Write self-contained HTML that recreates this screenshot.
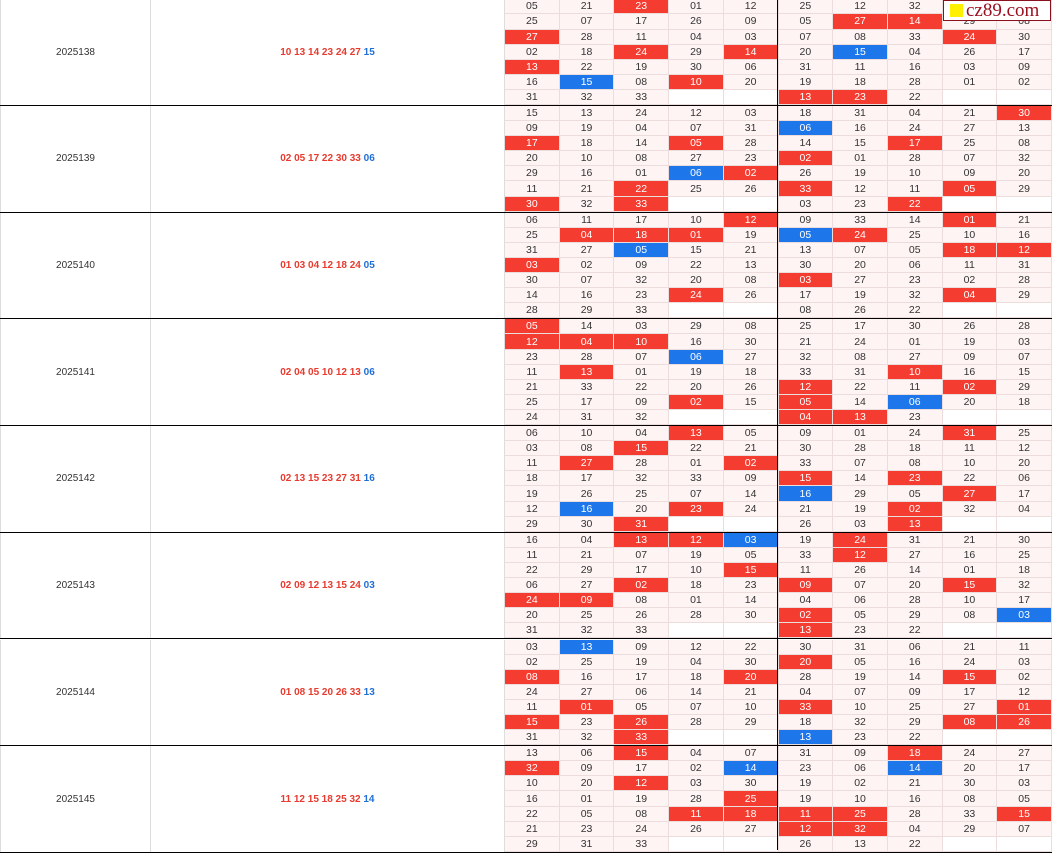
<!DOCTYPE html>
<html><head><meta charset="utf-8"><style>
*{margin:0;padding:0;box-sizing:border-box}
body{width:1052px;height:850px;overflow:hidden;background:#fff;font-family:"Liberation Sans",sans-serif;position:relative}
.blk{position:absolute;left:0;width:1052px;height:106.7px;display:grid;grid-template-columns:150px 355px repeat(10,1fr);grid-template-rows:repeat(7,1fr);border-bottom:1px solid #000}
.p,.n{grid-row:1/8;display:flex;align-items:center;justify-content:center;font-size:10px;border-left:1px solid #ddd;color:#333}
.n{font-weight:bold;color:#e83a2e;border-left:1px solid #ddd;border-right:1px solid #ddd}
.n span{color:#1f6fd6}
.blk i{font-style:normal;font-size:10.5px;color:#333;background:#fff4f4;border-right:1px solid #ecdcdc;border-bottom:1px solid #ecdcdc;display:flex;align-items:center;justify-content:center}
.blk i.r{background:#f43c30;color:#fff}
.blk i.b{background:#1d76ea;color:#fff}
.blk i.e{background:#fff}
.vl{position:absolute;left:777px;top:0;width:1px;height:850px;background:#000}
.logo{position:absolute;left:943px;top:0;width:108px;height:21px;background:#fff;border:1px solid #8a1020;display:flex;align-items:center;padding-left:6px;font-family:"Liberation Serif",serif;font-size:19px;color:#9a1020}
.logo b{display:inline-block;width:13px;height:13px;background:#ffef00;margin-right:3px}
</style></head><body>

<div class="blk" style="top:-0.7px"><div class="p">2025138</div><div class="n">10 13 14 23 24 27&nbsp;<span>15</span></div>
<i>05</i><i>21</i><i class="r">23</i><i>01</i><i>12</i><i>25</i><i>12</i><i>32</i><i class="r">32</i><i>06</i>
<i>25</i><i>07</i><i>17</i><i>26</i><i>09</i><i>05</i><i class="r">27</i><i class="r">14</i><i>29</i><i>08</i>
<i class="r">27</i><i>28</i><i>11</i><i>04</i><i>03</i><i>07</i><i>08</i><i>33</i><i class="r">24</i><i>30</i>
<i>02</i><i>18</i><i class="r">24</i><i>29</i><i class="r">14</i><i>20</i><i class="b">15</i><i>04</i><i>26</i><i>17</i>
<i class="r">13</i><i>22</i><i>19</i><i>30</i><i>06</i><i>31</i><i>11</i><i>16</i><i>03</i><i>09</i>
<i>16</i><i class="b">15</i><i>08</i><i class="r">10</i><i>20</i><i>19</i><i>18</i><i>28</i><i>01</i><i>02</i>
<i>31</i><i>32</i><i>33</i><i class="e"></i><i class="e"></i><i class="r">13</i><i class="r">23</i><i>22</i><i class="e"></i><i class="e"></i>
</div>

<div class="blk" style="top:106px"><div class="p">2025139</div><div class="n">02 05 17 22 30 33&nbsp;<span>06</span></div>
<i>15</i><i>13</i><i>24</i><i>12</i><i>03</i><i>18</i><i>31</i><i>04</i><i>21</i><i class="r">30</i>
<i>09</i><i>19</i><i>04</i><i>07</i><i>31</i><i class="b">06</i><i>16</i><i>24</i><i>27</i><i>13</i>
<i class="r">17</i><i>18</i><i>14</i><i class="r">05</i><i>28</i><i>14</i><i>15</i><i class="r">17</i><i>25</i><i>08</i>
<i>20</i><i>10</i><i>08</i><i>27</i><i>23</i><i class="r">02</i><i>01</i><i>28</i><i>07</i><i>32</i>
<i>29</i><i>16</i><i>01</i><i class="b">06</i><i class="r">02</i><i>26</i><i>19</i><i>10</i><i>09</i><i>20</i>
<i>11</i><i>21</i><i class="r">22</i><i>25</i><i>26</i><i class="r">33</i><i>12</i><i>11</i><i class="r">05</i><i>29</i>
<i class="r">30</i><i>32</i><i class="r">33</i><i class="e"></i><i class="e"></i><i>03</i><i>23</i><i class="r">22</i><i class="e"></i><i class="e"></i>
</div>

<div class="blk" style="top:212.7px"><div class="p">2025140</div><div class="n">01 03 04 12 18 24&nbsp;<span>05</span></div>
<i>06</i><i>11</i><i>17</i><i>10</i><i class="r">12</i><i>09</i><i>33</i><i>14</i><i class="r">01</i><i>21</i>
<i>25</i><i class="r">04</i><i class="r">18</i><i class="r">01</i><i>19</i><i class="b">05</i><i class="r">24</i><i>25</i><i>10</i><i>16</i>
<i>31</i><i>27</i><i class="b">05</i><i>15</i><i>21</i><i>13</i><i>07</i><i>05</i><i class="r">18</i><i class="r">12</i>
<i class="r">03</i><i>02</i><i>09</i><i>22</i><i>13</i><i>30</i><i>20</i><i>06</i><i>11</i><i>31</i>
<i>30</i><i>07</i><i>32</i><i>20</i><i>08</i><i class="r">03</i><i>27</i><i>23</i><i>02</i><i>28</i>
<i>14</i><i>16</i><i>23</i><i class="r">24</i><i>26</i><i>17</i><i>19</i><i>32</i><i class="r">04</i><i>29</i>
<i>28</i><i>29</i><i>33</i><i class="e"></i><i class="e"></i><i>08</i><i>26</i><i>22</i><i class="e"></i><i class="e"></i>
</div>

<div class="blk" style="top:319.4px"><div class="p">2025141</div><div class="n">02 04 05 10 12 13&nbsp;<span>06</span></div>
<i class="r">05</i><i>14</i><i>03</i><i>29</i><i>08</i><i>25</i><i>17</i><i>30</i><i>26</i><i>28</i>
<i class="r">12</i><i class="r">04</i><i class="r">10</i><i>16</i><i>30</i><i>21</i><i>24</i><i>01</i><i>19</i><i>03</i>
<i>23</i><i>28</i><i>07</i><i class="b">06</i><i>27</i><i>32</i><i>08</i><i>27</i><i>09</i><i>07</i>
<i>11</i><i class="r">13</i><i>01</i><i>19</i><i>18</i><i>33</i><i>31</i><i class="r">10</i><i>16</i><i>15</i>
<i>21</i><i>33</i><i>22</i><i>20</i><i>26</i><i class="r">12</i><i>22</i><i>11</i><i class="r">02</i><i>29</i>
<i>25</i><i>17</i><i>09</i><i class="r">02</i><i>15</i><i class="r">05</i><i>14</i><i class="b">06</i><i>20</i><i>18</i>
<i>24</i><i>31</i><i>32</i><i class="e"></i><i class="e"></i><i class="r">04</i><i class="r">13</i><i>23</i><i class="e"></i><i class="e"></i>
</div>

<div class="blk" style="top:426.1px"><div class="p">2025142</div><div class="n">02 13 15 23 27 31&nbsp;<span>16</span></div>
<i>06</i><i>10</i><i>04</i><i class="r">13</i><i>05</i><i>09</i><i>01</i><i>24</i><i class="r">31</i><i>25</i>
<i>03</i><i>08</i><i class="r">15</i><i>22</i><i>21</i><i>30</i><i>28</i><i>18</i><i>11</i><i>12</i>
<i>11</i><i class="r">27</i><i>28</i><i>01</i><i class="r">02</i><i>33</i><i>07</i><i>08</i><i>10</i><i>20</i>
<i>18</i><i>17</i><i>32</i><i>33</i><i>09</i><i class="r">15</i><i>14</i><i class="r">23</i><i>22</i><i>06</i>
<i>19</i><i>26</i><i>25</i><i>07</i><i>14</i><i class="b">16</i><i>29</i><i>05</i><i class="r">27</i><i>17</i>
<i>12</i><i class="b">16</i><i>20</i><i class="r">23</i><i>24</i><i>21</i><i>19</i><i class="r">02</i><i>32</i><i>04</i>
<i>29</i><i>30</i><i class="r">31</i><i class="e"></i><i class="e"></i><i>26</i><i>03</i><i class="r">13</i><i class="e"></i><i class="e"></i>
</div>

<div class="blk" style="top:532.8px"><div class="p">2025143</div><div class="n">02 09 12 13 15 24&nbsp;<span>03</span></div>
<i>16</i><i>04</i><i class="r">13</i><i class="r">12</i><i class="b">03</i><i>19</i><i class="r">24</i><i>31</i><i>21</i><i>30</i>
<i>11</i><i>21</i><i>07</i><i>19</i><i>05</i><i>33</i><i class="r">12</i><i>27</i><i>16</i><i>25</i>
<i>22</i><i>29</i><i>17</i><i>10</i><i class="r">15</i><i>11</i><i>26</i><i>14</i><i>01</i><i>18</i>
<i>06</i><i>27</i><i class="r">02</i><i>18</i><i>23</i><i class="r">09</i><i>07</i><i>20</i><i class="r">15</i><i>32</i>
<i class="r">24</i><i class="r">09</i><i>08</i><i>01</i><i>14</i><i>04</i><i>06</i><i>28</i><i>10</i><i>17</i>
<i>20</i><i>25</i><i>26</i><i>28</i><i>30</i><i class="r">02</i><i>05</i><i>29</i><i>08</i><i class="b">03</i>
<i>31</i><i>32</i><i>33</i><i class="e"></i><i class="e"></i><i class="r">13</i><i>23</i><i>22</i><i class="e"></i><i class="e"></i>
</div>

<div class="blk" style="top:639.5px"><div class="p">2025144</div><div class="n">01 08 15 20 26 33&nbsp;<span>13</span></div>
<i>03</i><i class="b">13</i><i>09</i><i>12</i><i>22</i><i>30</i><i>31</i><i>06</i><i>21</i><i>11</i>
<i>02</i><i>25</i><i>19</i><i>04</i><i>30</i><i class="r">20</i><i>05</i><i>16</i><i>24</i><i>03</i>
<i class="r">08</i><i>16</i><i>17</i><i>18</i><i class="r">20</i><i>28</i><i>19</i><i>14</i><i class="r">15</i><i>02</i>
<i>24</i><i>27</i><i>06</i><i>14</i><i>21</i><i>04</i><i>07</i><i>09</i><i>17</i><i>12</i>
<i>11</i><i class="r">01</i><i>05</i><i>07</i><i>10</i><i class="r">33</i><i>10</i><i>25</i><i>27</i><i class="r">01</i>
<i class="r">15</i><i>23</i><i class="r">26</i><i>28</i><i>29</i><i>18</i><i>32</i><i>29</i><i class="r">08</i><i class="r">26</i>
<i>31</i><i>32</i><i class="r">33</i><i class="e"></i><i class="e"></i><i class="b">13</i><i>23</i><i>22</i><i class="e"></i><i class="e"></i>
</div>

<div class="blk" style="top:746.2px"><div class="p">2025145</div><div class="n">11 12 15 18 25 32&nbsp;<span>14</span></div>
<i>13</i><i>06</i><i class="r">15</i><i>04</i><i>07</i><i>31</i><i>09</i><i class="r">18</i><i>24</i><i>27</i>
<i class="r">32</i><i>09</i><i>17</i><i>02</i><i class="b">14</i><i>23</i><i>06</i><i class="b">14</i><i>20</i><i>17</i>
<i>10</i><i>20</i><i class="r">12</i><i>03</i><i>30</i><i>19</i><i>02</i><i>21</i><i>30</i><i>03</i>
<i>16</i><i>01</i><i>19</i><i>28</i><i class="r">25</i><i>19</i><i>10</i><i>16</i><i>08</i><i>05</i>
<i>22</i><i>05</i><i>08</i><i class="r">11</i><i class="r">18</i><i class="r">11</i><i class="r">25</i><i>28</i><i>33</i><i class="r">15</i>
<i>21</i><i>23</i><i>24</i><i>26</i><i>27</i><i class="r">12</i><i class="r">32</i><i>04</i><i>29</i><i>07</i>
<i>29</i><i>31</i><i>33</i><i class="e"></i><i class="e"></i><i>26</i><i>13</i><i>22</i><i class="e"></i><i class="e"></i>
</div>

<div class="vl"></div>
<div class="logo"><b></b>cz89.com</div>
</body></html>
